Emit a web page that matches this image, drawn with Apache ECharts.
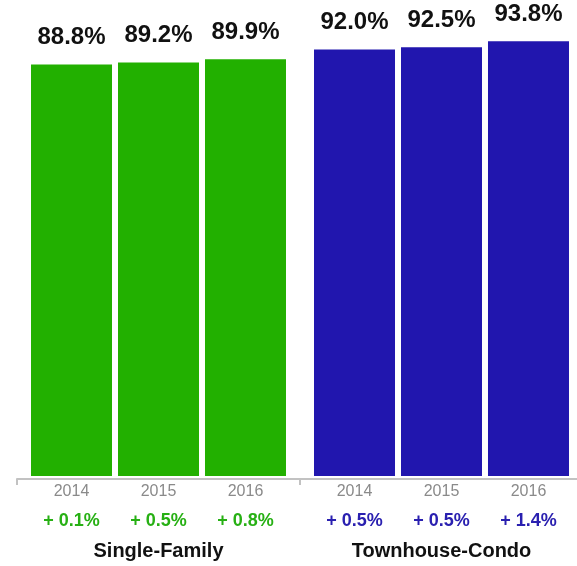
<!DOCTYPE html>
<html>
<head>
<meta charset="utf-8">
<script src="https://cdn.jsdelivr.net/npm/echarts@6/dist/echarts.min.js"></script>
<style>
  html, body { margin: 0; padding: 0; background: #fff; }
  #chart { width: 577px; height: 566px; }
</style>
</head>
<body>
<div id="chart"></div>
<script>
// data
const groups = ["Single-Family", "Townhouse-Condo"];
const years = ["2014", "2015", "2016"];
const singleFamily = [88.8, 89.2, 89.9];
const townhouseCondo = [92.0, 92.5, 93.8];
const singleFamilyChange = [0.1, 0.5, 0.8];
const townhouseCondoChange = [0.5, 0.5, 1.4];

const groupColors = ["#22b000", "#2116ae"];
const changeColors = ["#27b014", "#2a20b0"];
const values = [singleFamily, townhouseCondo];
const changes = [singleFamilyChange, townhouseCondoChange];
const font = "'Liberation Sans', Arial, Helvetica, sans-serif";

const chart = echarts.init(document.getElementById("chart"));

// one series per year, each holding both groups
const series = years.map((yr, i) => ({
  name: yr,
  type: "bar",
  barWidth: 81,
  barGap: "7.4%",
  data: groups.map((g, gi) => ({
    value: values[gi][i],
    itemStyle: { color: groupColors[gi] },
  })),
  label: {
    show: true,
    position: "top",
    distance: 15,
    formatter: (p) => p.value.toFixed(1) + "%",
    fontFamily: font,
    fontSize: 24,
    fontWeight: "bold",
    color: "#111",
  },
}));

chart.setOption({
  animation: false,
  grid: { left: 17, width: 566, top: 12.5, bottom: 90, outerBoundsMode: "none", containLabel: false },
  xAxis: {
    type: "category",
    data: groups,
    offset: 3,
    axisLine: { onZero: false, lineStyle: { color: "#c2c2c2", width: 2 } },
    axisTick: { show: true, length: 6, lineStyle: { color: "#c2c2c2", width: 2 } },
    axisLabel: {
      interval: 0,
      margin: 3,
      fontFamily: font,
      formatter: (name) => {
        const gi = groups.indexOf(name);
        const c = gi === 0 ? "g" : "b";
        const yrs = years.map((y) => "{y|" + y + "}").join("");
        const ch = changes[gi].map((v) => "{" + c + "|+ " + v.toFixed(1) + "%}").join("");
        return yrs + "\n" + ch + "\n{n|" + name + "}";
      },
      rich: {
        y: { width: 87, align: "center", fontSize: 16, color: "#8a8a8a", lineHeight: 20, fontFamily: font },
        g: { width: 87, align: "center", fontSize: 18, fontWeight: "bold", color: changeColors[0], lineHeight: 38, fontFamily: font },
        b: { width: 87, align: "center", fontSize: 18, fontWeight: "bold", color: changeColors[1], lineHeight: 38, fontFamily: font },
        n: { fontSize: 20, fontWeight: "bold", color: "#111", lineHeight: 23, fontFamily: font },
      },
    },
  },
  yAxis: {
    type: "value",
    min: 0,
    max: 100,
    show: false,
  },
  series: series,
});
</script>
</body>
</html>
